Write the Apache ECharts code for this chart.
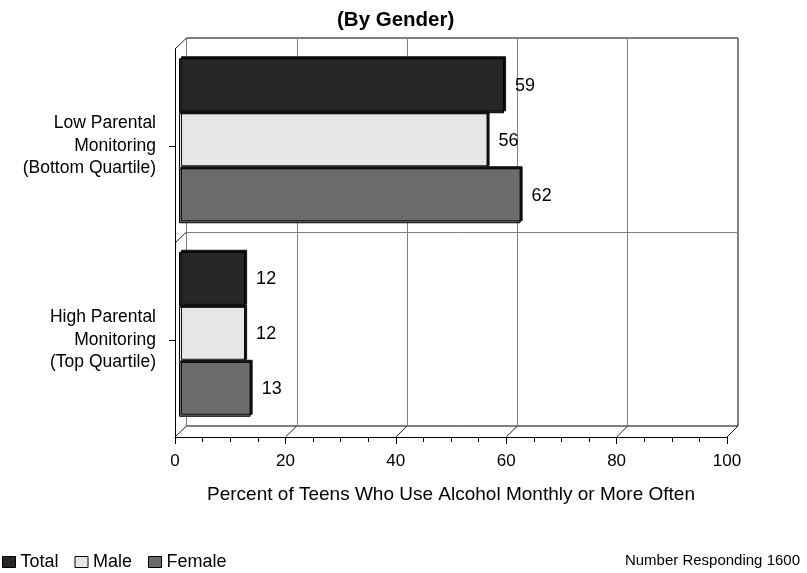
<!DOCTYPE html>
<html>
<head>
<meta charset="utf-8">
<script src="https://cdn.jsdelivr.net/npm/echarts@6/dist/echarts.min.js"></script>
<style>
  html, body { margin: 0; padding: 0; background: #fff; }
  #main { width: 807px; height: 573px; }
</style>
</head>
<body>
<div id="main"></div>
<script>
// data
var categories = ['Low Parental\nMonitoring\n(Bottom Quartile)', 'High Parental\nMonitoring\n(Top Quartile)'];
var seriesNames = ['Total', 'Male', 'Female'];
var totalValues = [59, 12];
var maleValues = [56, 12];
var femaleValues = [62, 13];
var xTicks = [0, 20, 40, 60, 80, 100];
var colors = ['#262626', '#e6e6e6', '#6b6b6b'];

var font = "'Liberation Sans', Arial, sans-serif";
var chart = echarts.init(document.getElementById('main'), null, { renderer: 'canvas' });

function barSeries(name, values, color) {
  return {
    name: name,
    type: 'bar',
    xAxisIndex: 2,
    yAxisIndex: 2,
    data: values,
    barWidth: 55,
    barGap: '0%',
    itemStyle: {
      color: color,
      borderColor: '#000',
      borderWidth: 1,
      shadowColor: '#111',
      shadowBlur: 0,
      shadowOffsetX: 2,
      shadowOffsetY: -2
    },
    label: {
      show: true,
      position: 'right',
      distance: 11,
      color: '#000',
      fontSize: 18,
      fontFamily: font
    },
    emphasis: { disabled: true }
  };
}

var option = {
  animation: false,
  backgroundColor: '#fff',
  title: [{
    text: '(By Gender)',
    left: 337,
    top: 10,
    padding: 0,
    textStyle: { fontSize: 20.5, fontWeight: 'bold', color: '#000', fontFamily: font }
  }, {
    text: 'Number Responding 1600',
    right: 7,
    top: 553,
    padding: 0,
    textStyle: { fontSize: 15, fontWeight: 'normal', color: '#000', fontFamily: font }
  }],
  legend: {
    data: seriesNames,
    left: 2,
    top: 553,
    padding: 0,
    icon: 'rect',
    itemWidth: 13,
    itemHeight: 11,
    itemGap: 16,
    itemStyle: { borderColor: '#000', borderWidth: 1, shadowColor: 'rgba(0,0,0,0)', shadowOffsetX: 0, shadowOffsetY: 0 },
    textStyle: { fontSize: 18, color: '#000', fontFamily: font }
  },
  grid: [
    // back wall
    { left: 186.5, top: 38, width: 551.5, height: 388, show: true, borderColor: '#000', borderWidth: 1, backgroundColor: '#fff', outerBoundsMode: 'none', containLabel: false },
    // front axes
    { left: 175, top: 49, width: 552, height: 388, outerBoundsMode: 'none', containLabel: false },
    // bars (mid depth)
    { left: 179, top: 44, width: 551, height: 387, outerBoundsMode: 'none', containLabel: false }
  ],
  xAxis: [{
    gridIndex: 0, type: 'value', min: 0, max: 100, interval: 20,
    axisLine: { show: false }, axisTick: { show: false }, axisLabel: { show: false },
    splitLine: { show: true, lineStyle: { color: '#808080', width: 1 } }
  }, {
    gridIndex: 1, type: 'value', min: 0, max: 100, interval: 20,
    axisLine: { show: true, lineStyle: { color: '#000', width: 1 } },
    axisTick: { show: true, length: 7, lineStyle: { color: '#000' } },
    minorTick: { show: true, splitNumber: 4, length: 5, lineStyle: { color: '#000' } },
    splitLine: { show: false },
    minorSplitLine: { show: false },
    axisLabel: { fontSize: 17, margin: 16, color: '#000', fontFamily: font },
    name: 'Percent of Teens Who Use Alcohol Monthly or More Often',
    nameLocation: 'middle',
    nameGap: 48,
    nameTextStyle: { fontSize: 19, color: '#000', fontFamily: font }
  }, {
    gridIndex: 2, type: 'value', min: 0, max: 100, show: false
  }],
  yAxis: [{
    gridIndex: 0, type: 'category', data: categories, inverse: true,
    axisLine: { show: false }, axisTick: { show: false }, axisLabel: { show: false },
    splitLine: { show: true, lineStyle: { color: '#808080', width: 1 } }
  }, {
    gridIndex: 1, type: 'category', data: categories, inverse: true,
    axisLine: { show: true, lineStyle: { color: '#000', width: 1 } },
    axisTick: { show: true, alignWithLabel: true, length: 6, lineStyle: { color: '#000' } },
    splitLine: { show: false },
    axisLabel: { fontSize: 17.5, lineHeight: 22.5, margin: 19, padding: [3, 0, 0, 0], color: '#000', fontFamily: font, align: 'right' }
  }, {
    gridIndex: 2, type: 'category', data: categories, inverse: true, show: false
  }],
  series: [
    barSeries(seriesNames[0], totalValues, colors[0]),
    barSeries(seriesNames[1], maleValues, colors[1]),
    barSeries(seriesNames[2], femaleValues, colors[2])
  ]
};

chart.setOption(option);

// 3D box edges joining front axes to back wall
var frontRect = chart.getModel().getComponent('grid', 1).coordinateSystem.getRect();
var backRect = chart.getModel().getComponent('grid', 0).coordinateSystem.getRect();
var edges = [];
function edge(fx, fy, bx, by) {
  edges.push({
    type: 'line', silent: true, z: 1,
    shape: { x1: fx, y1: fy, x2: bx, y2: by },
    style: { stroke: '#222', lineWidth: 1 }
  });
}
xTicks.forEach(function (v) {
  edge(chart.convertToPixel({ xAxisIndex: 1 }, v), frontRect.y + frontRect.height,
       chart.convertToPixel({ xAxisIndex: 0 }, v), backRect.y + backRect.height);
});
[0, 0.5].forEach(function (f) {
  edge(frontRect.x, frontRect.y + f * frontRect.height, backRect.x, backRect.y + f * backRect.height);
});
chart.setOption({ graphic: edges });

window.onresize = function () {
  chart.resize();
};
</script>
</body>
</html>
